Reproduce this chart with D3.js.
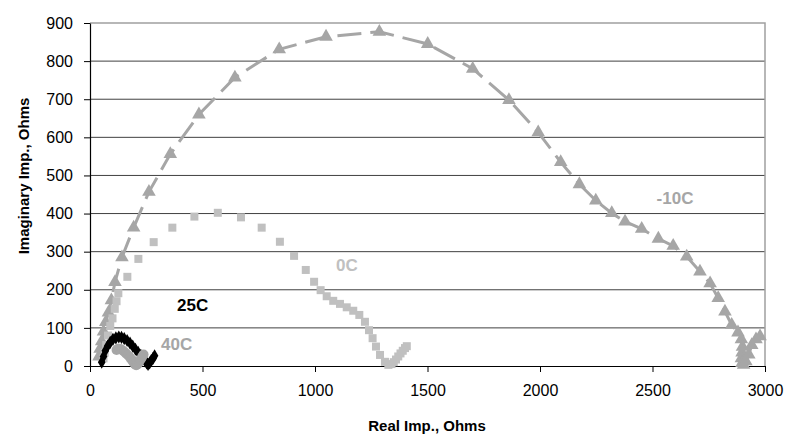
<!DOCTYPE html>
<html>
<head>
<meta charset="utf-8">
<script src="https://cdn.jsdelivr.net/npm/d3@7.9.0/dist/d3.min.js"></script>
<style>
  body { margin: 0; background: #fff; }
  svg { display: block; font-family: Arial, "Liberation Sans", sans-serif; }
</style>
</head>
<body>
<svg id="chart" width="788" height="434"></svg>
<script>
// -10C (triangles, dashed line)
const minus10 = [
  [40, 25], [45, 45], [52, 65], [60, 90], [70, 115], [82, 140], [95, 172], [111, 220],
  [142, 285], [194, 363], [262, 457], [357, 556], [484, 660], [644, 757], [841, 831],
  [1049, 864], [1286, 877], [1501, 845], [1701, 780], [1862, 698], [1992, 613], [2092, 535],
  [2175, 477], [2248, 434], [2319, 401], [2378, 379], [2452, 360], [2526, 334], [2592, 315],
  [2652, 287], [2711, 248], [2756, 217], [2792, 178], [2822, 143], [2852, 108], [2880, 88],
  [2895, 70], [2900, 50], [2898, 35], [2895, 20], [2898, 8], [2905, 3], [2915, 12],
  [2928, 30], [2941, 55], [2960, 70], [2978, 78]
];
// 0C (squares)
const zero = [
  [60, 20], [65, 35], [72, 55], [80, 80], [90, 105], [100, 125], [110, 150], [118, 170],
  [126, 191], [166, 234], [215, 281], [283, 325], [366, 363], [464, 392], [568, 402],
  [671, 390], [763, 363], [844, 326], [907, 289], [959, 252], [996, 221], [1025, 199],
  [1052, 183], [1081, 171], [1111, 163], [1141, 154], [1170, 145], [1197, 134], [1222, 116],
  [1240, 94], [1256, 73], [1271, 51], [1289, 29], [1311, 11], [1326, 3], [1340, 5],
  [1350, 10], [1360, 17], [1370, 25], [1380, 33], [1390, 40], [1400, 47], [1408, 52]
];
// 25C (black diamonds)
const plus25 = [
  [52, 10], [60, 25], [68, 40], [78, 52], [90, 62], [102, 70], [115, 74], [128, 76],
  [140, 75], [152, 72], [165, 67], [178, 60], [190, 52], [202, 44], [214, 36], [226, 28],
  [236, 20], [245, 13], [252, 8], [258, 4], [265, 8], [272, 14], [280, 20], [287, 27]
];
// 40C (gray circles)
const plus40 = [
  [118, 42], [125, 45], [133, 45], [142, 42], [151, 38], [160, 33], [169, 28], [178, 22],
  [186, 16], [193, 10], [199, 5], [205, 2], [211, 4], [218, 10], [225, 17], [232, 24], [238, 30]
];
const xTicks = [0, 500, 1000, 1500, 2000, 2500, 3000];
const yTicks = [0, 100, 200, 300, 400, 500, 600, 700, 800, 900];
const labels = [
  { text: '-10C', x: 2600, y: 438, color: '#a6a6a6' },
  { text: '0C', x: 1142, y: 261, color: '#c0c0c0' },
  { text: '25C', x: 456, y: 156, color: '#000000' },
  { text: '40C', x: 385, y: 55, color: '#a6a6a6' }
];

const svg = d3.select('#chart');
const x = d3.scaleLinear().domain([0, 3000]).range([90, 765]);
const y = d3.scaleLinear().domain([0, 900]).range([366, 23]);

// gridlines
svg.append('g')
  .selectAll('line')
  .data(yTicks.filter((d) => d > 0 && d < 900))
  .join('line')
  .attr('x1', x(0)).attr('x2', x(3000))
  .attr('y1', (d) => y(d)).attr('y2', (d) => y(d))
  .attr('stroke', '#404040').attr('stroke-width', 1);

// plot border (top, right)
svg.append('path')
  .attr('d', `M${x(0)},${y(900)}H${x(3000)}V${y(0)}`)
  .attr('fill', 'none').attr('stroke', '#a0a0a0').attr('stroke-width', 1.5);

// axes
const fmt = d3.format('d');
const xAxis = svg.append('g')
  .attr('transform', `translate(0,${y(0)})`)
  .call(d3.axisBottom(x).tickValues(xTicks).tickFormat(fmt).tickSize(6).tickSizeOuter(0).tickPadding(13));
const yAxis = svg.append('g')
  .attr('transform', `translate(${x(0)},0)`)
  .call(d3.axisLeft(y).tickValues(yTicks).tickFormat(fmt).tickSize(6).tickSizeOuter(0).tickPadding(11));
[xAxis, yAxis].forEach((g) => {
  g.select('.domain').attr('stroke', '#000').attr('stroke-width', 1.2);
  g.selectAll('.tick line').attr('stroke', '#000');
  g.selectAll('.tick text').attr('font-size', 16).attr('fill', '#000')
    .attr('font-family', 'Arial, "Liberation Sans", sans-serif');
});

// -10C dashed line + triangles
const line = d3.line().x((d) => x(d[0])).y((d) => y(d[1]));
svg.append('path')
  .datum(minus10)
  .attr('d', line)
  .attr('fill', 'none')
  .attr('stroke', '#a6a6a6')
  .attr('stroke-width', 3)
  .attr('stroke-dasharray', '24,9');

const tri = d3.symbol().type(d3.symbolTriangle).size(80);
svg.append('g')
  .selectAll('path')
  .data(minus10)
  .join('path')
  .attr('d', tri)
  .attr('transform', (d) => `translate(${x(d[0])},${y(d[1])})`)
  .attr('fill', '#a6a6a6');

// 0C squares
svg.append('g')
  .selectAll('rect')
  .data(zero)
  .join('rect')
  .attr('x', (d) => x(d[0]) - 4)
  .attr('y', (d) => y(d[1]) - 4)
  .attr('width', 8).attr('height', 8)
  .attr('fill', '#c0c0c0');

// 25C diamonds
const dia = d3.symbol().type(d3.symbolDiamond).size(50);
svg.append('g')
  .selectAll('path')
  .data(plus25)
  .join('path')
  .attr('d', dia)
  .attr('transform', (d) => `translate(${x(d[0])},${y(d[1])})`)
  .attr('fill', '#000');

// 40C circles
svg.append('g')
  .selectAll('circle')
  .data(plus40)
  .join('circle')
  .attr('cx', (d) => x(d[0]))
  .attr('cy', (d) => y(d[1]))
  .attr('r', 5)
  .attr('fill', '#a6a6a6');

// series labels
svg.append('g')
  .selectAll('text')
  .data(labels)
  .join('text')
  .attr('x', (d) => x(d.x))
  .attr('y', (d) => y(d.y))
  .attr('text-anchor', 'middle')
  .attr('dominant-baseline', 'middle')
  .attr('font-size', 17)
  .attr('font-weight', 'bold')
  .attr('fill', (d) => d.color)
  .text((d) => d.text);

// axis titles
svg.append('text')
  .attr('x', 427).attr('y', 431)
  .attr('text-anchor', 'middle')
  .attr('font-size', 15).attr('font-weight', 'bold')
  .text('Real Imp., Ohms');
svg.append('text')
  .attr('transform', 'translate(29,176) rotate(-90)')
  .attr('text-anchor', 'middle')
  .attr('font-size', 15).attr('font-weight', 'bold')
  .text('Imaginary Imp., Ohms');
</script>
</body>
</html>
